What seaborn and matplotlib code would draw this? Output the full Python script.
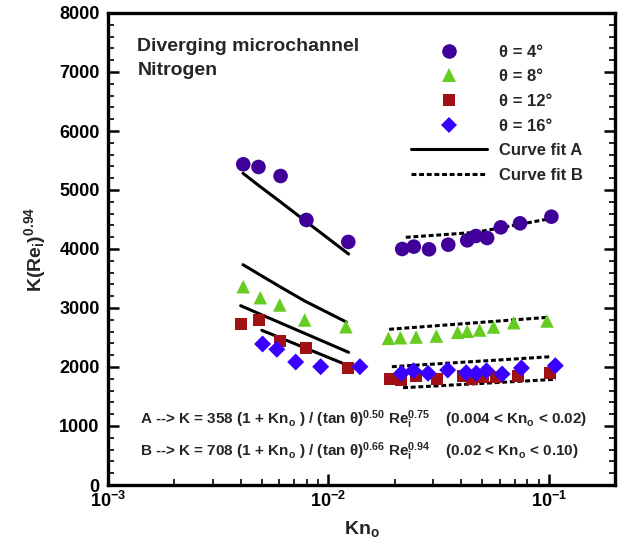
import numpy as np
import pandas as pd
import matplotlib
matplotlib.use("Agg")
import matplotlib.pyplot as plt
import matplotlib.ticker as mticker
from matplotlib.lines import Line2D
import seaborn as sns

# ---------------- data ----------------
angles = ["θ = 4°", "θ = 8°", "θ = 12°", "θ = 16°"]

kn_4 = [0.00411, 0.00482, 0.00607, 0.00795, 0.01232,
        0.02163, 0.02443, 0.02864, 0.03502, 0.04270, 0.04674, 0.05258, 0.06064, 0.07413, 0.1029]
k_4 = [5436, 5390, 5237, 4492, 4120,
       4000, 4040, 3995, 4073, 4147, 4220, 4186, 4367, 4435, 4548]

kn_8 = [0.00411, 0.00491, 0.00602, 0.00781, 0.01202,
        0.01874, 0.02124, 0.02502, 0.03091, 0.03863, 0.04270, 0.04858, 0.05620, 0.06944, 0.09827]
k_8 = [3361, 3175, 3051, 2797, 2683,
       2486, 2497, 2508, 2525, 2588, 2605, 2627, 2678, 2751, 2780]

kn_12 = [0.00401, 0.00484, 0.00602, 0.00789, 0.01228,
         0.01902, 0.02146, 0.02509, 0.03123, 0.04069, 0.04470, 0.05043, 0.05798, 0.07263, 0.1014]
k_12 = [2729, 2797, 2446, 2317, 1978,
        1797, 1780, 1847, 1797, 1847, 1797, 1836, 1825, 1847, 1898]

kn_16 = [0.00503, 0.00584, 0.00711, 0.00923, 0.01391,
         0.02146, 0.02432, 0.02835, 0.03481, 0.04224, 0.04689, 0.05224, 0.06148, 0.07523, 0.1072]
k_16 = [2390, 2300, 2085, 2005, 2005,
        1893, 1937, 1893, 1949, 1903, 1893, 1937, 1881, 1983, 2022]

# Curve fit A (0.004 < Kn < 0.02)
fitA_kn_4 = [0.00410, 0.00482, 0.00607, 0.00795, 0.01236]
fitA_k_4 = [5283, 5079, 4797, 4461, 3915]
fitA_kn_8 = [0.00410, 0.00491, 0.00602, 0.00781, 0.01206]
fitA_k_8 = [3734, 3559, 3363, 3119, 2763]
fitA_kn_12 = [0.00400, 0.00484, 0.00602, 0.00789, 0.01236]
fitA_k_12 = [3039, 2905, 2752, 2563, 2249]
fitA_kn_16 = [0.00499, 0.00584, 0.00711, 0.00923, 0.01406]
fitA_k_16 = [2622, 2519, 2388, 2215, 1937]

# Curve fit B (0.02 < Kn < 0.10)
fitB_kn_4 = [0.02247, 0.03502, 0.04674, 0.07413, 0.1035]
fitB_k_4 = [4198, 4249, 4283, 4420, 4520]
fitB_kn_8 = [0.01888, 0.04270, 0.0993]
fitB_k_8 = [2639, 2739, 2842]
fitB_kn_12 = [0.02184, 0.04860, 0.1079]
fitB_k_12 = [1649, 1720, 1792]
fitB_kn_16 = [0.01942, 0.04460, 0.1024]
fitB_k_16 = [2005, 2090, 2175]

x_ticks = [1e-3, 1e-2, 1e-1]
y_ticks = [0, 1000, 2000, 3000, 4000, 5000, 6000, 7000, 8000]

# ---------------- build tables ----------------
pts = pd.DataFrame({
    "Kn": kn_4 + kn_8 + kn_12 + kn_16,
    "K": k_4 + k_8 + k_12 + k_16,
    "angle": [angles[0]] * len(kn_4) + [angles[1]] * len(kn_8)
    + [angles[2]] * len(kn_12) + [angles[3]] * len(kn_16),
})

fits = []
for fit, series in (("A", [(fitA_kn_4, fitA_k_4), (fitA_kn_8, fitA_k_8),
                           (fitA_kn_12, fitA_k_12), (fitA_kn_16, fitA_k_16)]),
                    ("B", [(fitB_kn_4, fitB_k_4), (fitB_kn_8, fitB_k_8),
                           (fitB_kn_12, fitB_k_12), (fitB_kn_16, fitB_k_16)])):
    for a, (xs, ys) in zip(angles, series):
        fits.append(pd.DataFrame({"Kn": xs, "K": ys, "fit": fit, "id": fit + a}))
fits = pd.concat(fits, ignore_index=True)

# ---------------- styling ----------------
sns.set_theme(style="white")
plt.rcParams["font.family"] = ["Liberation Sans", "DejaVu Sans"]
plt.rcParams["font.weight"] = "bold"
plt.rcParams["mathtext.fontset"] = "custom"
plt.rcParams["mathtext.rm"] = "Liberation Sans:bold"
plt.rcParams["mathtext.it"] = "Liberation Sans:bold"
plt.rcParams["mathtext.bf"] = "Liberation Sans:bold"
plt.rcParams["mathtext.default"] = "rm"
plt.rcParams.update({
    "axes.axisbelow": False,
    "xtick.bottom": True, "xtick.top": False, "ytick.left": True, "ytick.right": True,
    "xtick.direction": "in", "ytick.direction": "in",
    "xtick.major.size": 8, "ytick.major.size": 8,
    "xtick.minor.size": 4, "ytick.minor.size": 4,
    "xtick.major.width": 1.8, "ytick.major.width": 1.8,
    "xtick.minor.width": 1.2, "ytick.minor.width": 1.2,
    "xtick.color": "black", "ytick.color": "black",
    "xtick.minor.visible": True, "ytick.minor.visible": True,
})

colors = {angles[0]: "#400099", angles[1]: "#66CC22",
          angles[2]: "#A01015", angles[3]: "#3A00FF"}
markers = {angles[0]: "o", angles[1]: "^", angles[2]: "s", angles[3]: "D"}
sizes = {angles[0]: 110, angles[1]: 95, angles[2]: 75, angles[3]: 75}

fig = plt.figure(figsize=(6.34, 5.49), dpi=100)
ax = fig.add_axes([108 / 634, 1 - 485 / 549, 507 / 634, 472 / 549])

dash = (0, (1.6, 0.9))
for fid, grp in fits.groupby("id", sort=False):
    style = "-" if grp["fit"].iloc[0] == "A" else dash
    sns.lineplot(data=grp, x="Kn", y="K", sort=False, estimator=None,
                 color="black", lw=2.2, ax=ax, linestyle=style, legend=False)

for a in angles:
    g = pts[pts["angle"] == a]
    sns.scatterplot(data=g, x="Kn", y="K", marker=markers[a], color=colors[a],
                    s=sizes[a], edgecolor="none", ax=ax, legend=False, zorder=3)

ax.set_xscale("log")
ax.set_xlim(1e-3, 0.2)
ax.set_ylim(0, 8000)
ax.set_xticks(x_ticks)
ax.xaxis.set_major_formatter(mticker.LogFormatterMathtext())
ax.xaxis.set_minor_locator(mticker.LogLocator(base=10, subs=np.arange(2, 10), numticks=20))
ax.xaxis.set_minor_formatter(mticker.NullFormatter())
ax.set_yticks(y_ticks)
ax.yaxis.set_minor_locator(mticker.MultipleLocator(200))
ax.set_axisbelow(False)

for s in ax.spines.values():
    s.set_linewidth(2.4)
    s.set_color("black")
ax.tick_params(which="major", direction="in", length=8, width=1.8,
               labelsize=13, colors="black", pad=6,
               left=True, right=True, bottom=True, top=False)
ax.tick_params(which="minor", direction="in", length=4, width=1.2, colors="black",
               left=True, right=True, bottom=True, top=False)
ax.tick_params(axis="x", which="major", pad=4)
for lab in ax.get_xticklabels() + ax.get_yticklabels():
    lab.set_fontweight("bold")

ax.set_xlabel(r"Kn$_{\mathregular{o}}$", fontsize=14, fontweight="bold", labelpad=6)
ax.set_ylabel(r"K(Re$_{\mathregular{i}}$)$^{\mathregular{0.94}}$", fontsize=14,
              fontweight="bold", labelpad=8)

ax.text(0.058, 0.947, "Diverging microchannel\nNitrogen", transform=ax.transAxes,
        fontsize=14, fontweight="bold", va="top", ha="left", linespacing=1.5)

ax.text(0.064, 0.138,
        r"A --> K = 358 (1 + Kn$_{\mathregular{o}}$ ) / (tan $\theta$)$^{\mathregular{0.50}}$ "
        r"Re$_{\mathregular{i}}^{\mathregular{0.75}}$    (0.004 < Kn$_{\mathregular{o}}$ < 0.02)",
        transform=ax.transAxes, fontsize=11, fontweight="bold", va="center", ha="left")
ax.text(0.064, 0.07,
        r"B --> K = 708 (1 + Kn$_{\mathregular{o}}$ ) / (tan $\theta$)$^{\mathregular{0.66}}$ "
        r"Re$_{\mathregular{i}}^{\mathregular{0.94}}$    (0.02 < Kn$_{\mathregular{o}}$ < 0.10)",
        transform=ax.transAxes, fontsize=11, fontweight="bold", va="center", ha="left")

handles = [Line2D([], [], ls="none", marker=markers[a], color=colors[a],
                  markersize=(10.5 if a == angles[0] else 9.5 if a == angles[1] else 8.5),
                  markeredgewidth=0) for a in angles]
handles += [Line2D([], [], color="black", lw=2.2),
            Line2D([], [], color="black", lw=2.2, linestyle=dash)]
labels = angles + ["Curve fit A", "Curve fit B"]
leg = ax.legend(handles, labels, loc="upper left", bbox_to_anchor=(0.597, 0.933),
                frameon=False, fontsize=12, handlelength=4.6, handletextpad=0.7,
                labelspacing=0.58, borderpad=0, borderaxespad=0)
for t in leg.get_texts():
    t.set_fontweight("bold")

fig.savefig("out.png", dpi=100)

# diagnostic: verify inward tick marks were rendered
img = plt.imread("out.png")
px_x = 108 + 7
px_y = int(round(485 - 1000 * 472 / 8000))
patch = img[px_y - 2:px_y + 3, px_x - 1:px_x + 2, :3]
if patch.min() > 0.5:
    t = ax.yaxis.get_major_ticks()[1]
    raise SystemExit("NO TICK: tick1On=%s vis=%s size=%s color=%s lw=%s zorder=%s" % (
        t.tick1line.get_visible(), t.get_visible(), t.tick1line.get_markersize(),
        t.tick1line.get_color(), t.tick1line.get_markeredgewidth(), ax.yaxis.get_zorder()))
